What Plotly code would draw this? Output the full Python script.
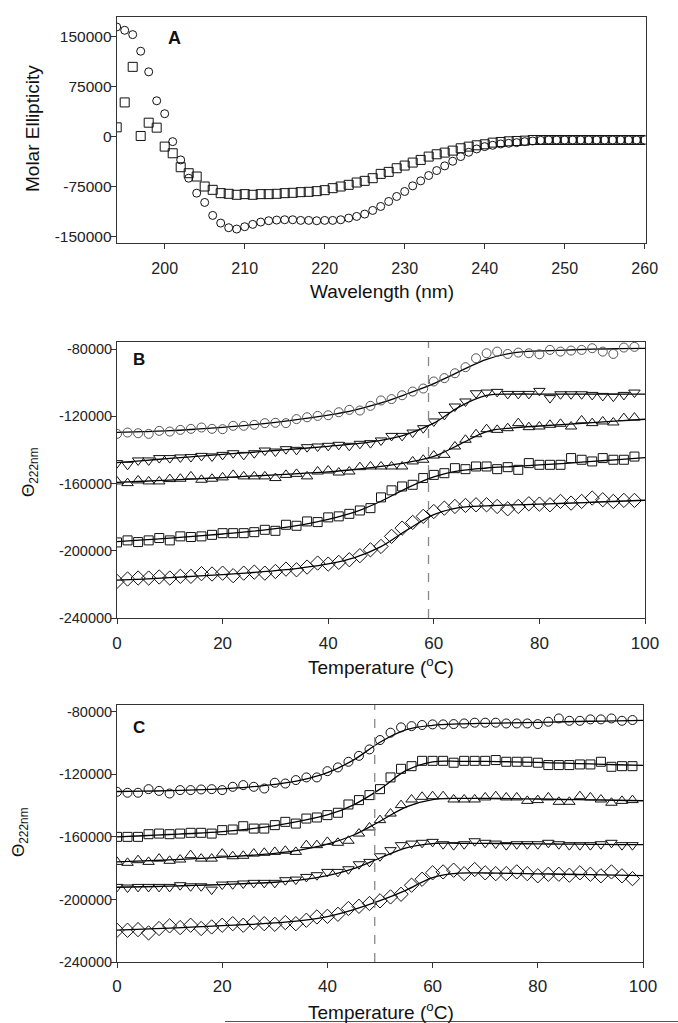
import plotly.graph_objects as go

# ---------------- Panel A data ----------------
WAVELENGTH = [194, 195, 196, 197, 198, 199, 200, 201, 202, 203, 204, 205, 206, 207, 208, 209,
              210, 211, 212, 213, 214, 215, 216, 217, 218, 219, 220, 221, 222, 223, 224, 225,
              226, 227, 228, 229, 230, 231, 232, 233, 234, 235, 236, 237, 238, 239, 240, 241,
              242, 243, 244, 245, 246, 247, 248, 249, 250, 251, 252, 253, 254, 255, 256, 257,
              258, 259, 260]
A_CIRCLES = [165000, 160000, 153500, 128500, 97500, 54000, 34500, -7500, -35000, -62500, -85000,
             -99000, -118500, -130000, -137000, -139000, -135500, -132000, -128500, -126500,
             -125500, -125000, -125000, -126000, -126000, -126500, -126000, -126000, -125000,
             -122500, -120000, -116500, -111000, -105000, -97500, -90000, -82500, -74000, -66500,
             -58500, -51000, -44000, -37000, -30000, -23500, -18500, -15000, -13000, -11000,
             -10000, -9000, -7500, -6500, -5500, -5000, -5000, -5000, -5000, -5000, -5000, -5000,
             -5000, -5000, -5000, -5000, -5000, -5000]
A_SQUARES = [14000, 51500, 105000, 1000, 21000, 13500, -15000, -25000, -46000, -55000, -60000,
             -75000, -80000, -85000, -86000, -87500, -86500, -87500, -86500, -86500, -86000,
             -85000, -84500, -83500, -83000, -82000, -80500, -77500, -75000, -72500, -69000,
             -66500, -62500, -56000, -53000, -47500, -43500, -39000, -35000, -30000, -26500,
             -24000, -21000, -17500, -15000, -13000, -11500, -9000, -8000, -7000, -6500, -6000,
             -5000, -5000, -5000, -5000, -5000, -5000, -5000, -5000, -5000, -5000, -5000, -5000,
             -5000, -5000, -5000]

# ---------------- Panels B & C data ----------------
TEMP = [0, 2, 4, 6, 8, 10, 12, 14, 16, 18, 20, 22, 24, 26, 28, 30, 32, 34, 36, 38, 40, 42, 44,
        46, 48, 50, 52, 54, 56, 58, 60, 62, 64, 66, 68, 70, 72, 74, 76, 78, 80, 82, 84, 86, 88,
        90, 92, 94, 96, 98]
FIT_T = [0, 5, 10, 15, 20, 25, 30, 35, 40, 45, 50, 55, 60, 65, 70, 75, 80, 85, 90, 95, 100]

B_CIRCLES = [-130400, -129600, -130000, -130400, -128600, -129000, -128000, -127400, -126600,
             -127400, -127600, -125600, -125600, -125000, -124000, -123800, -124000, -121600,
             -120500, -119700, -119300, -117500, -116100, -116500, -113700, -110500, -109700,
             -107400, -105200, -103400, -99200, -97200, -94300, -90700, -85400, -82400, -81400,
             -82800, -82000, -82400, -83000, -80400, -81400, -80800, -80400, -79400, -81400,
             -82800, -79000, -78600]
B_CIRCLES_FIT = [-129500, -129000, -128500, -127600, -126500, -125200, -123500, -121500, -119200,
                 -116200, -112000, -106500, -100500, -93000, -86000, -82200, -81000, -80500,
                 -80000, -79700, -79500]
B_TRI_DOWN = [-147800, -148800, -146200, -146200, -144800, -144800, -144400, -144200, -143500,
              -143800, -142900, -141900, -142900, -141900, -140300, -140900, -139500, -139900,
              -138300, -137900, -137500, -136900, -137500, -136300, -135900, -134300, -131600,
              -131600, -129600, -127000, -123000, -119100, -114100, -111100, -106200, -105800,
              -105400, -106600, -106600, -106600, -104800, -109100, -106800, -106800, -106800,
              -107200, -107800, -108200, -107200, -105800]
B_TRI_DOWN_FIT = [-147500, -146300, -145000, -143800, -142600, -141500, -140300, -139100, -137800,
                  -136400, -134300, -130500, -124000, -114000, -107500, -106700, -106700, -106700,
                  -106700, -106700, -106700]
B_TRI_UP = [-158700, -159700, -158100, -158700, -158700, -157300, -157100, -155700, -157700,
            -157100, -156300, -154800, -155700, -155700, -155700, -156700, -154800, -154200,
            -155700, -152800, -152200, -153400, -152800, -150200, -149800, -149800, -149800,
            -149800, -146800, -145800, -143300, -142900, -137900, -133900, -130600, -127600,
            -128000, -127000, -124000, -126400, -126000, -125000, -124400, -126000, -122400,
            -124000, -123000, -123600, -121000, -120700]
B_TRI_UP_FIT = [-159300, -158600, -157900, -157200, -156400, -155600, -154800, -153900, -153000,
                -151600, -149800, -147400, -143800, -136500, -129000, -126800, -125700, -124700,
                -123700, -122700, -121700]
B_SQUARES = [-195000, -193800, -194800, -193800, -192400, -193800, -191400, -191800, -191400,
             -190500, -189500, -189500, -189500, -188900, -187500, -188100, -184500, -185100,
             -182500, -182900, -180100, -179500, -178000, -176000, -174600, -168200, -164000,
             -161700, -160700, -156700, -154800, -153800, -150800, -151400, -149800, -149800,
             -151400, -150200, -151800, -147800, -148800, -148800, -148800, -144800, -145800,
             -146800, -144800, -145800, -145800, -143900]
B_SQUARES_FIT = [-194500, -193500, -192500, -191300, -190000, -188600, -186800, -184500, -181300,
                 -177000, -170500, -162500, -156000, -152300, -150700, -149800, -148900, -147900,
                 -146800, -145700, -144500]
B_DIAMONDS = [-218200, -216800, -216200, -216200, -215600, -216200, -215200, -215200, -213600,
              -213800, -213300, -214800, -213300, -212700, -213300, -212300, -210900, -211300,
              -209700, -207300, -207900, -206900, -205300, -202900, -199400, -197400, -191400,
              -186500, -183100, -179500, -176600, -174600, -173600, -173000, -172600, -172600,
              -173600, -175000, -173600, -172000, -172200, -172600, -170600, -171600, -170600,
              -168600, -169600, -170600, -170000, -170000]
B_DIAMONDS_FIT = [-217500, -216800, -216000, -215100, -214200, -213100, -211800, -210100, -207800,
                  -204000, -197500, -187500, -178500, -174200, -173200, -172700, -172200, -171700,
                  -171100, -170500, -169900]

C_CIRCLES = [-131200, -131800, -131800, -129500, -130600, -132300, -130100, -130100, -129700,
             -129500, -130100, -128000, -126900, -128000, -129100, -125400, -125900, -123700,
             -122000, -122000, -118000, -115600, -112000, -108200, -104100, -98100, -93400,
             -90000, -89200, -88500, -88100, -88100, -87900, -87500, -87000, -87000, -87000,
             -87500, -87500, -87500, -87900, -86400, -84300, -85800, -85800, -84900, -84900,
             -84300, -85800, -85300]
C_CIRCLES_FIT = [-131000, -130800, -130500, -130000, -129300, -128200, -126500, -123800, -119000,
                 -110800, -99500, -91500, -88700, -87800, -87400, -87100, -86800, -86400, -86100,
                 -85800, -85500]
C_SQUARES = [-160000, -160000, -160000, -158300, -157900, -158300, -157900, -157400, -157400,
             -157900, -155700, -155300, -153200, -154700, -154700, -152500, -150400, -151500,
             -148300, -147600, -146100, -144600, -139300, -136500, -133300, -129500, -122000,
             -116500, -114800, -111400, -111400, -111400, -112600, -111400, -111400, -111400,
             -110900, -112000, -112000, -112000, -112600, -114100, -114100, -114100, -113700,
             -113700, -112000, -115200, -114800, -114800]
C_SQUARES_FIT = [-160000, -159300, -158500, -157700, -156600, -155000, -152800, -149800, -146000,
                 -139500, -129500, -117500, -112000, -111700, -111800, -112000, -112400, -112900,
                 -113400, -113900, -114300]
C_TRI_UP = [-176000, -176600, -174900, -176000, -173900, -175300, -174500, -171700, -173900,
            -173900, -170700, -172400, -172100, -170700, -170200, -169600, -168900, -169600,
            -165300, -165300, -163200, -163800, -162500, -157900, -154000, -149300, -145100,
            -139700, -136100, -134400, -134000, -134000, -136100, -136100, -136100, -134800,
            -134000, -134800, -134800, -137000, -136500, -134800, -137600, -137600, -134000,
            -134800, -136100, -138200, -137000, -136500]
C_TRI_UP_FIT = [-176000, -175400, -174700, -173900, -173000, -171900, -170500, -168300, -164700,
                -158800, -150000, -140800, -136200, -135400, -135400, -135600, -135800, -136100,
                -136300, -136600, -136900]
C_TRI_DOWN = [-192000, -192400, -192000, -192000, -192000, -192000, -190900, -191600, -191600,
              -193700, -190500, -190300, -189800, -189400, -189400, -189400, -187700, -187300,
              -185600, -184500, -182400, -182400, -180700, -177500, -176000, -172400, -168500,
              -165300, -164300, -163800, -163200, -164700, -165300, -164700, -162800, -163800,
              -164300, -165300, -164700, -164700, -164700, -163800, -164700, -165300, -165300,
              -165300, -164700, -163800, -165300, -165300]
C_TRI_DOWN_FIT = [-192200, -191900, -191500, -191000, -190500, -189800, -189000, -187500, -184800,
                  -180300, -173500, -167000, -164300, -164100, -164200, -164300, -164500, -164600,
                  -164800, -164900, -165000]
C_DIAMONDS = [-219700, -219700, -219300, -221400, -218600, -216900, -218000, -216500, -218600,
              -217600, -216500, -215500, -216500, -214800, -215500, -215900, -214800, -215500,
              -213300, -211200, -210800, -209500, -205800, -204400, -202600, -200900, -198400,
              -196700, -190900, -187100, -183000, -182400, -181300, -183500, -180900, -183000,
              -183500, -183500, -182400, -183500, -184900, -183900, -183900, -184500, -183000,
              -183900, -184900, -182400, -184900, -186700]
C_DIAMONDS_FIT = [-219600, -219000, -218300, -217600, -216800, -216000, -215000, -213500, -211000,
                  -206500, -200800, -194000, -186000, -183200, -183100, -183300, -183600, -183900,
                  -184200, -184500, -184800]

B_TRANSITION = 59
C_TRANSITION = 49

A_XTICKS = [200, 210, 220, 230, 240, 250, 260]
A_YTICKS = [-150000, -75000, 0, 75000, 150000]
A_YTICKTEXT = ["-150000", "-75000", "0", "75000", "150000"]
T_XTICKS = [0, 20, 40, 60, 80, 100]
T_YTICKS = [-240000, -200000, -160000, -120000, -80000]
T_YTICKTEXT = ["-240000", "-200000", "-160000", "-120000", "-80000"]

FONT = "Liberation Sans, Arial, sans-serif"
W, H = 678, 1023

fig = go.Figure()

# Panel A
fig.add_trace(go.Scatter(x=WAVELENGTH, y=A_CIRCLES, mode="markers", xaxis="x", yaxis="y",
                         marker=dict(symbol="circle-open", size=8, color="#111",
                                     line=dict(width=1, color="#111")), showlegend=False))
fig.add_trace(go.Scatter(x=WAVELENGTH, y=A_SQUARES, mode="markers", xaxis="x", yaxis="y",
                         marker=dict(symbol="square-open", size=9, color="#111",
                                     line=dict(width=1, color="#111")), showlegend=False))


def add_series(xa, ya, pts, fit, symbol, size, color="#111"):
    fig.add_trace(go.Scatter(x=FIT_T, y=fit, mode="lines", xaxis=xa, yaxis=ya,
                             line=dict(color="#000", width=1.3, shape="spline"),
                             showlegend=False))
    fig.add_trace(go.Scatter(x=TEMP, y=pts, mode="markers", xaxis=xa, yaxis=ya,
                             marker=dict(symbol=symbol, size=size, color=color,
                                         line=dict(width=1, color=color)),
                             showlegend=False))


add_series("x2", "y2", B_CIRCLES, B_CIRCLES_FIT, "circle-open", 9, "#555")
add_series("x2", "y2", B_TRI_DOWN, B_TRI_DOWN_FIT, "triangle-down-open", 10)
add_series("x2", "y2", B_TRI_UP, B_TRI_UP_FIT, "triangle-up-open", 10)
add_series("x2", "y2", B_SQUARES, B_SQUARES_FIT, "square-open", 9)
add_series("x2", "y2", B_DIAMONDS, B_DIAMONDS_FIT, "diamond-open", 11)

add_series("x3", "y3", C_CIRCLES, C_CIRCLES_FIT, "circle-open", 9)
add_series("x3", "y3", C_SQUARES, C_SQUARES_FIT, "square-open", 9)
add_series("x3", "y3", C_TRI_UP, C_TRI_UP_FIT, "triangle-up-open", 10)
add_series("x3", "y3", C_TRI_DOWN, C_TRI_DOWN_FIT, "triangle-down-open", 10)
add_series("x3", "y3", C_DIAMONDS, C_DIAMONDS_FIT, "diamond-open", 11)

XDOM = [116.7 / W, 645.5 / W]


def ydom(top, bottom):
    return [1 - bottom / H, 1 - top / H]


axis_common = dict(showline=True, linecolor="#333", linewidth=1, mirror=True,
                   ticks="outside", ticklen=5, tickcolor="#333", tickwidth=1,
                   showgrid=False, zeroline=False, color="#222")

fig.update_layout(
    width=W, height=H,
    margin=dict(l=0, r=0, t=0, b=0, autoexpand=False),
    paper_bgcolor="white", plot_bgcolor="white",
    font=dict(family=FONT, color="#222"),
    xaxis=dict(domain=XDOM, anchor="y", range=[194.0, 260.1], tickvals=A_XTICKS,
               tickfont=dict(size=16), ticklabelstandoff=6, **axis_common),
    yaxis=dict(domain=ydom(17, 243), anchor="x", range=[-160000, 180000], tickvals=A_YTICKS,
               ticktext=A_YTICKTEXT, tickfont=dict(size=15.5), ticklabelstandoff=-4,
               **axis_common),
    xaxis2=dict(domain=[117 / W, 645 / W], anchor="y2", range=[0, 100], tickvals=T_XTICKS,
                tickfont=dict(size=17), ticklabelstandoff=5, **axis_common),
    yaxis2=dict(domain=ydom(342, 618), anchor="x2", range=[-240000, -75700], tickvals=T_YTICKS,
                ticktext=T_YTICKTEXT, tickfont=dict(size=14.5), ticklabelstandoff=-4,
                **axis_common),
    xaxis3=dict(domain=[117 / W, 643 / W], anchor="y3", range=[0, 100], tickvals=T_XTICKS,
                tickfont=dict(size=17), ticklabelstandoff=4, **axis_common),
    yaxis3=dict(domain=ydom(705, 962), anchor="x3", range=[-240000, -75700], tickvals=T_YTICKS,
                ticktext=T_YTICKTEXT, tickfont=dict(size=14.5), ticklabelstandoff=-4,
                **axis_common),
)

# Transition temperature markers
fig.add_shape(type="line", xref="x2", yref="y2 domain", x0=B_TRANSITION, x1=B_TRANSITION,
              y0=0, y1=1, line=dict(color="#888", width=1.3, dash="dash"))
fig.add_shape(type="line", xref="x3", yref="y3 domain", x0=C_TRANSITION, x1=C_TRANSITION,
              y0=0, y1=1, line=dict(color="#888", width=1.3, dash="dash"))
# rule at page bottom
fig.add_shape(type="line", xref="paper", yref="paper", x0=225 / W, x1=1.0,
              y0=1 - 1021.5 / H, y1=1 - 1021.5 / H, line=dict(color="#555", width=1))


def px_ann(text, x, y, size, bold=False, angle=0):
    fig.add_annotation(text=("<b>%s</b>" % text) if bold else text,
                       xref="paper", yref="paper", x=x / W, y=1 - y / H,
                       xanchor="center", yanchor="middle", showarrow=False,
                       textangle=angle, font=dict(size=size, family=FONT, color="#111"))


px_ann("A", 174, 38, 18, bold=True)
px_ann("B", 139, 359, 17, bold=True)
px_ann("C", 139, 727, 17, bold=True)

px_ann("Molar Ellipticity", 32, 129, 19, angle=-90)
px_ann("Wavelength (nm)", 382, 292, 19)
px_ann("Θ<sub>222nm</sub>", 30, 472, 17, angle=-90)
px_ann("Temperature (<sup>o</sup>C)", 381, 666, 19)
px_ann("Θ<sub>222nm</sub>", 20, 832, 17, angle=-90)
px_ann("Temperature (<sup>o</sup>C)", 381, 1011, 19)

fig.write_html("out.html", config={"displayModeBar": False},
               post_script="document.body.style.margin='0';"
                           "document.body.style.overflow='hidden';")
